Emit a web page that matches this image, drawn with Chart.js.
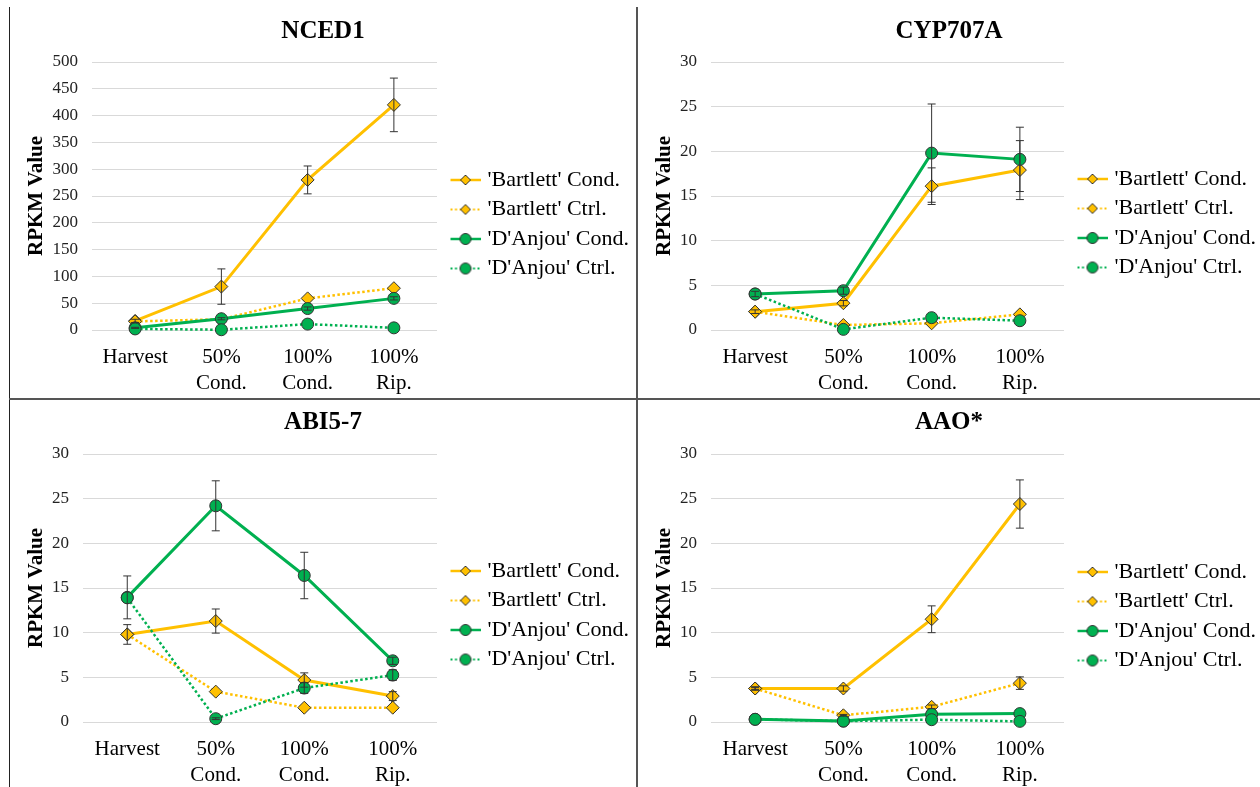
<!DOCTYPE html>
<html>
<head>
<meta charset="utf-8">
<script src="https://cdn.jsdelivr.net/npm/chart.js@4.4.1/dist/chart.umd.min.js"></script>
<style>
body { margin: 0; background: #fff; }
#wrap { position: relative; width: 1260px; height: 787px; overflow: hidden; background: #fff; }
.panel { position: absolute; }
.ln { position: absolute; background: #555; }
</style>
</head>
<body>
<div id="wrap">
	<div class="panel" style="left:10px;top:0px;"><canvas id="c1" width="626" height="398" style="width:626px;height:398px"></canvas></div>
	<div class="panel" style="left:638px;top:0px;"><canvas id="c2" width="622" height="398" style="width:622px;height:398px"></canvas></div>
	<div class="panel" style="left:10px;top:400px;"><canvas id="c3" width="626" height="387" style="width:626px;height:387px"></canvas></div>
	<div class="panel" style="left:638px;top:400px;"><canvas id="c4" width="622" height="387" style="width:622px;height:387px"></canvas></div>
	<div class="ln" style="left:9px;top:7px;width:1px;height:780px;background:#222"></div>
	<div class="ln" style="left:636px;top:7px;width:2px;height:780px"></div>
	<div class="ln" style="left:9px;top:398px;width:1251px;height:2px"></div>
</div>
<script>
// categories and series names
var categories = ['Harvest', ['50%', 'Cond.'], ['100%', 'Cond.'], ['100%', 'Rip.']];
var seriesNames = ["'Bartlett' Cond.", "'Bartlett' Ctrl.", "'D'Anjou' Cond.", "'D'Anjou' Ctrl."];

// NCED1
var nced1BartlettCond = [17, 81, 280, 420];
var nced1BartlettCtrl = [16, 20, 59, 78];
var nced1DanjouCond = [4, 21, 40, 59];
var nced1DanjouCtrl = [2, 0.5, 11, 4];
var nced1BartlettCondErr = [3, 33, 26, 50];
var nced1DanjouCondErr = [1, 2, 3, 3];

// CYP707A
var cypBartlettCond = [2.05, 3.0, 16.1, 17.9];
var cypBartlettCtrl = [2.05, 0.56, 0.75, 1.75];
var cypDanjouCond = [4.03, 4.4, 19.8, 19.1];
var cypDanjouCtrl = [4.03, 0.07, 1.38, 1.04];
var cypBartlettCondErr = [0.2, 0.3, 2.05, 3.3];
var cypDanjouCondErr = [0.3, 0.4, 5.5, 3.6];

// ABI5-7
var abiBartlettCond = [9.8, 11.3, 4.7, 2.9];
var abiBartlettCtrl = [9.8, 3.4, 1.6, 1.6];
var abiDanjouCond = [13.95, 24.2, 16.4, 6.85];
var abiDanjouCtrl = [13.9, 0.37, 3.8, 5.25];
var abiBartlettCondErr = [1.1, 1.35, 0.8, 0.5];
var abiDanjouCondErr = [2.4, 2.8, 2.6, 0.4];
var abiDanjouCtrlErr = [0, 0.1, 0.6, 0.6];

// AAO*
var aaoBartlettCond = [3.75, 3.75, 11.5, 24.4];
var aaoBartlettCtrl = [3.75, 0.75, 1.7, 4.35];
var aaoDanjouCond = [0.3, 0.1, 0.86, 0.94];
var aaoDanjouCtrl = [0.3, 0.1, 0.26, 0.07];
var aaoBartlettCondErr = [0.2, 0.3, 1.5, 2.7];
var aaoBartlettCtrlErr = [0.1, 0.1, 0.2, 0.7];

var ORANGE = '#FFC000';
var GREEN = '#00B050';
var SERIF = "'Liberation Serif', 'Times New Roman', serif";
var LEGEND_FONT = 22;
var LEGEND_PAD = 7.5;

// little line + marker picture for the legend
function legendIcon(color, dotted, marker) {
	var c = document.createElement('canvas');
	c.width = 40; c.height = 14;
	var g = c.getContext('2d');
	g.strokeStyle = color;
	g.lineWidth = dotted ? 2 : 2.5;
	g.setLineDash(dotted ? [2, 2.5] : []);
	g.beginPath(); g.moveTo(10, 7); g.lineTo(40, 7); g.stroke();
	g.setLineDash([]);
	g.fillStyle = color; g.strokeStyle = '#333'; g.lineWidth = 1;
	g.beginPath();
	if (marker === 'rectRot') {
		g.moveTo(25, 2); g.lineTo(30, 7); g.lineTo(25, 12); g.lineTo(20, 7); g.closePath();
	} else {
		g.arc(25, 7, 5.5, 0, Math.PI * 2);
	}
	g.fill(); g.stroke();
	return c;
}
var icons = [
	legendIcon(ORANGE, false, 'rectRot'),
	legendIcon(ORANGE, true, 'rectRot'),
	legendIcon(GREEN, false, 'circle'),
	legendIcon(GREEN, true, 'circle')
];

var errorBars = {
	id: 'errorBars',
	afterDatasetsDraw: function(chart) {
		var ctx = chart.ctx, ys = chart.scales.y;
		ctx.save();
		ctx.strokeStyle = '#333';
		ctx.lineWidth = 1;
		chart.data.datasets.forEach(function(ds, i) {
			if (!ds.errors) return;
			var meta = chart.getDatasetMeta(i);
			meta.data.forEach(function(pt, j) {
				var e = ds.errors[j];
				if (!e) return;
				var v = ds.data[j];
				var t = ys.getPixelForValue(v + e), b = ys.getPixelForValue(v - e);
				ctx.beginPath();
				ctx.moveTo(pt.x, t); ctx.lineTo(pt.x, b);
				ctx.moveTo(pt.x - 4, t); ctx.lineTo(pt.x + 4, t);
				ctx.moveTo(pt.x - 4, b); ctx.lineTo(pt.x + 4, b);
				ctx.stroke();
			});
		});
		ctx.restore();
	}
};

function series(i, data, errors) {
	var orange = i < 2;
	var dotted = i % 2 === 1;
	return {
		label: seriesNames[i],
		data: data,
		errors: errors,
		borderColor: orange ? ORANGE : GREEN,
		backgroundColor: orange ? ORANGE : GREEN,
		borderWidth: dotted ? 2.5 : 3,
		borderDash: dotted ? [2.5, 2.5] : [],
		pointStyle: orange ? 'rectRot' : 'circle',
		pointRadius: orange ? 6.5 : 6,
		pointBorderColor: '#333',
		pointBorderWidth: 1,
		pointBackgroundColor: orange ? ORANGE : GREEN,
		tension: 0,
		clip: false,
		order: 4 - i
	};
}

function makeChart(id, title, yMax, step, datasets, box) {
	var canvas = document.getElementById(id);
	var W = canvas.width, H = canvas.height;
	var fixLegend = {
		id: 'fixLegend',
		beforeLayout: function(chart) {
			var lg = chart.legend;
			if (lg && !lg._fixed) {
				var f = lg.fit.bind(lg);
				lg.fit = function() { f(); this.width = W - box.right; };
				lg._fixed = true;
			}
		}
	};
	return new Chart(canvas, {
		type: 'line',
		data: { labels: categories, datasets: datasets },
		options: {
			responsive: false,
			animation: false,
			layout: { padding: 0 },
			plugins: {
				title: {
					display: true,
					text: title,
					color: '#000',
					font: { family: SERIF, size: 25, weight: 'bold' },
					padding: { top: box.titleTop, bottom: box.top - box.titleTop - 30 }
				},
				legend: {
					position: 'right',
					align: 'start',
					title: { display: true, text: '', font: { size: 10 }, padding: { top: box.legendTop - 12 - LEGEND_PAD - LEGEND_FONT / 2, bottom: 0 } },
					labels: {
						usePointStyle: true,
						pointStyleWidth: 32,
						padding: LEGEND_PAD,
						color: '#000',
						font: { family: SERIF, size: LEGEND_FONT },
						generateLabels: function(chart) {
							return chart.data.datasets.map(function(ds, i) {
								return { text: ds.label, pointStyle: icons[i], fillStyle: 'rgba(0,0,0,0)', strokeStyle: 'rgba(0,0,0,0)', lineWidth: 0, hidden: false, datasetIndex: i, fontColor: '#000' };
							});
						}
					}
				},
				tooltip: { enabled: false }
			},
			scales: {
				x: {
					offset: true,
					grid: { display: false, drawTicks: false },
					border: { display: false },
					ticks: { color: '#000', padding: 14, maxRotation: 0, font: { family: SERIF, size: 21, lineHeight: 1.25 } },
					afterFit: function(s) { s.height = H - box.bottom; }
				},
				y: {
					min: 0, max: yMax,
					grid: { color: '#d9d9d9', lineWidth: 1, drawTicks: false },
					border: { display: false },
					ticks: { stepSize: step, color: '#222', padding: 14, font: { family: SERIF, size: 17 } },
					title: { display: true, text: 'RPKM Value', color: '#000', padding: { top: 14, bottom: 0 }, font: { family: SERIF, size: 21, weight: 'bold' } },
					afterFit: function(s) { s.width = box.left; }
				}
			}
		},
		plugins: [errorBars, fixLegend]
	});
}

makeChart('c1', 'NCED1', 500, 50, [
	series(0, nced1BartlettCond, nced1BartlettCondErr),
	series(1, nced1BartlettCtrl),
	series(2, nced1DanjouCond, nced1DanjouCondErr),
	series(3, nced1DanjouCtrl)
], { left: 82, right: 427, top: 62, bottom: 330, titleTop: 17, legendTop: 180 });

makeChart('c2', 'CYP707A', 30, 5, [
	series(0, cypBartlettCond, cypBartlettCondErr),
	series(1, cypBartlettCtrl),
	series(2, cypDanjouCond, cypDanjouCondErr),
	series(3, cypDanjouCtrl)
], { left: 73, right: 426, top: 62, bottom: 330, titleTop: 17, legendTop: 179 });

makeChart('c3', 'ABI5-7', 30, 5, [
	series(0, abiBartlettCond, abiBartlettCondErr),
	series(1, abiBartlettCtrl),
	series(2, abiDanjouCond, abiDanjouCondErr),
	series(3, abiDanjouCtrl, abiDanjouCtrlErr)
], { left: 73, right: 427, top: 54, bottom: 322, titleTop: 8, legendTop: 171 });

makeChart('c4', 'AAO*', 30, 5, [
	series(0, aaoBartlettCond, aaoBartlettCondErr),
	series(1, aaoBartlettCtrl, aaoBartlettCtrlErr),
	series(2, aaoDanjouCond),
	series(3, aaoDanjouCtrl)
], { left: 73, right: 426, top: 54, bottom: 322, titleTop: 8, legendTop: 172 });
</script>
</body>
</html>
